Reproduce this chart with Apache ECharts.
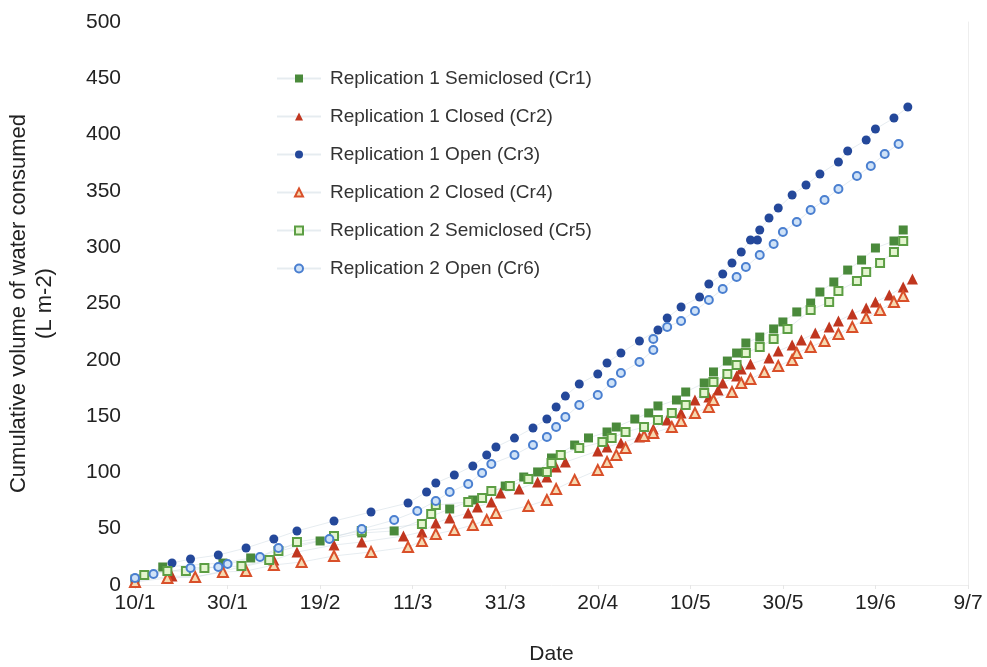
<!DOCTYPE html>
<html>
<head>
<meta charset="utf-8">
<title>Cumulative water consumption</title>
<script src="https://cdn.jsdelivr.net/npm/echarts@6/dist/echarts.min.js"></script>
<style>
html, body { margin: 0; padding: 0; background: #fff; }
#chart { width: 987px; height: 667px; }
</style>
</head>
<body>
<div id="chart"></div>
<script>
// x = days since 10/1, y = cumulative L m-2
const tickLabels = ['10/1', '30/1', '19/2', '11/3', '31/3', '20/4', '10/5', '30/5', '19/6', '9/7'];
const seriesNames = [
    'Replication 1 Semiclosed (Cr1)',
    'Replication 1 Closed (Cr2)',
    'Replication 1 Open (Cr3)',
    'Replication 2 Closed (Cr4)',
    'Replication 2 Semiclosed (Cr5)',
    'Replication 2 Open (Cr6)'
];

const cr1 = [[0, 5.3], [6, 16.0], [19, 19.5], [25, 24.0], [40, 39.1], [49, 46.2], [56, 48.0], [68, 67.5], [73, 75.5],
    [80, 87.9], [84, 95.9], [87, 100.4], [90, 112.8], [95, 124.3], [98, 130.6], [102, 135.9], [104, 140.3], [108, 147.4],
    [111, 152.8], [113, 159.0], [117, 164.3], [119, 171.4], [123, 179.4], [125, 189.2], [128, 198.9], [130, 206.0],
    [132, 214.9], [135, 220.2], [138, 227.4], [140, 233.6], [143, 242.5], [146, 250.4], [148, 260.2], [151, 269.1],
    [154, 279.7], [157, 288.6], [160, 299.3], [164, 305.5], [166, 315.3]];

const cr2 = [[0, 3.6], [8, 8.0], [13, 7.1], [30, 22.2], [35, 29.3], [43, 35.5], [49, 38.2], [58, 43.5], [62, 47.1],
    [65, 55.1], [68, 59.5], [72, 63.9], [74, 69.3], [77, 73.7], [79, 81.7], [83, 85.3], [87, 91.5], [89, 95.9],
    [91, 104.8], [93, 109.2], [100, 119.0], [102, 122.6], [105, 126.1], [109, 131.4], [112, 138.5], [115, 146.5],
    [118, 152.8], [121, 164.3], [124, 167.0], [126, 173.2], [127, 179.4], [130, 185.6], [131, 191.8], [133, 196.3],
    [137, 201.6], [139, 207.8], [142, 213.1], [144, 217.6], [147, 223.8], [150, 229.1], [152, 234.5], [155, 240.7],
    [158, 246.0], [160, 251.3], [163, 257.5], [166, 264.7], [168, 271.8]];

const cr3 = [[0, 4.4], [8, 19.5], [12, 23.1], [18, 26.6], [24, 32.9], [30, 40.9], [35, 48.0], [43, 56.8], [51, 64.8],
    [59, 72.8], [63, 82.6], [65, 90.6], [69, 97.7], [73, 105.7], [76, 115.5], [78, 122.6], [82, 130.5], [86, 139.4],
    [89, 147.4], [91, 158.1], [93, 167.8], [96, 178.5], [100, 187.4], [102, 197.2], [105, 206.0], [109, 216.7],
    [113, 226.5], [115, 237.1], [118, 246.9], [122, 255.8], [124, 267.3], [127, 276.2], [129, 286.0], [131, 295.7],
    [133, 306.4], [134.5, 306.4], [135, 315.3], [137, 325.9], [139, 334.8], [142, 346.4], [145, 355.2], [148, 365.0],
    [152, 375.7], [154, 385.4], [158, 395.2], [160, 405.0], [164, 414.7], [167, 424.5]];

const cr4 = [[0, 2.7], [7, 6.2], [13, 7.1], [19, 11.5], [24, 12.4], [30, 17.8], [36, 20.4], [43, 25.8], [51, 29.3],
    [59, 33.7], [62, 39.1], [65, 45.3], [69, 48.8], [73, 53.3], [76, 57.7], [78, 63.9], [85, 70.2], [89, 75.5],
    [91, 85.3], [95, 93.3], [100, 102.1], [102, 109.2], [104, 115.5], [106, 121.7], [110, 132.3], [112, 135.0],
    [116, 140.3], [118, 145.6], [121, 152.8], [124, 158.1], [125, 164.3], [129, 171.4], [131, 179.4], [133, 182.9],
    [136, 189.2], [139, 194.5], [142, 199.8], [143, 206.0], [146, 211.4], [149, 216.7], [152, 222.9], [155, 229.1],
    [158, 237.1], [161, 244.2], [164, 251.3], [166, 256.7]];

const cr5 = [[2, 8.9], [7, 12.4], [11, 12.4], [15, 15.1], [23, 16.9], [29, 22.2], [31, 30.2], [35, 38.2], [43, 43.5],
    [49, 48.0], [62, 54.2], [64, 63.1], [65, 71.0], [72, 73.7], [75, 77.3], [77, 83.5], [81, 87.9], [85, 94.1],
    [89, 100.4], [90, 108.3], [92, 115.5], [96, 121.7], [101, 127.0], [103, 130.6], [106, 135.9], [110, 140.3],
    [113, 146.5], [116, 152.8], [119, 159.9], [123, 170.5], [125, 180.3], [128, 187.4], [130, 195.4], [132, 206.0],
    [135, 211.4], [138, 218.5], [141, 227.4], [146, 244.2], [150, 251.3], [152, 261.1], [156, 270.0], [158, 278.0],
    [161, 286.0], [164, 295.7], [166, 305.5]];

const cr6 = [[0, 6.2], [4, 9.8], [12, 15.1], [18, 16.0], [20, 18.7], [27, 24.9], [31, 32.9], [42, 40.9], [49, 49.7],
    [56, 57.7], [61, 65.7], [65, 74.6], [68, 82.6], [72, 89.7], [75, 99.5], [77, 107.5], [82, 115.5], [86, 124.3],
    [89, 131.4], [91, 140.3], [93, 149.2], [96, 159.9], [100, 168.7], [103, 179.4], [105, 188.3], [109, 198.0],
    [112, 208.7], [112, 218.5], [115, 229.1], [118, 234.5], [121, 243.3], [124, 253.1], [127, 262.9], [130, 273.5],
    [132, 282.4], [135, 293.1], [138, 302.8], [140, 313.5], [143, 322.4], [146, 333.0], [149, 341.9], [152, 351.7],
    [156, 363.2], [159, 372.1], [162, 382.8], [165, 391.7]];

const font = 'Liberation Sans, Arial, sans-serif';

// faint connecting line, coloured marker
function makeSeries(name, data, symbol, size, fill, border, borderWidth) {
    return {
        name: name,
        type: 'line',
        data: data,
        symbol: symbol,
        symbolSize: size,
        showAllSymbol: true,
        lineStyle: { color: 'rgba(200, 212, 222, 0.45)', width: 1 },
        itemStyle: { color: fill, borderColor: border, borderWidth: borderWidth },
        emphasis: { disabled: true },
        z: 2
    };
}

let chart = echarts.init(document.getElementById('chart'));
let option = {
    backgroundColor: '#fff',
    animation: false,
    textStyle: { fontFamily: font },
    grid: { left: 135, right: 19, top: 22, bottom: 82, containLabel: false, outerBoundsMode: 'none' },
    legend: {
        orient: 'vertical',
        left: 271,
        top: 64,
        itemWidth: 44,
        itemHeight: 10,
        itemGap: 19,
        textStyle: { fontSize: 19, color: '#333', padding: [0, 0, 0, 4] },
        data: seriesNames
    },
    xAxis: {
        type: 'value',
        min: 0,
        max: 180,
        interval: 20,
        name: 'Date',
        nameLocation: 'middle',
        nameGap: 59,
        nameTextStyle: { fontSize: 21, color: '#222' },
        axisLine: { show: true, lineStyle: { color: '#eeeeee' } },
        axisTick: { show: true, length: 4, lineStyle: { color: '#e6e6e6' } },
        splitLine: { show: false },
        axisLabel: {
            fontSize: 21,
            color: '#222',
            margin: 8,
            formatter: function (v) { return tickLabels[Math.round(v / 20)]; }
        }
    },
    yAxis: [
        {
            type: 'value',
            min: 0,
            max: 500,
            interval: 50,
            name: 'Cumulative volume of water consumed\n(L m-2)',
            nameLocation: 'middle',
            nameGap: 77,
            nameTextStyle: { fontSize: 22, color: '#222', lineHeight: 26 },
            axisLine: { show: false },
            axisTick: { show: false },
            splitLine: { show: false },
            axisLabel: { fontSize: 21, color: '#222', margin: 14 }
        },
        {
            type: 'value',
            position: 'right',
            min: 0,
            max: 500,
            axisLine: { show: true, lineStyle: { color: '#eeeeee' } },
            axisTick: { show: false },
            axisLabel: { show: false },
            splitLine: { show: false }
        }
    ],
    series: [
        makeSeries(seriesNames[0], cr1, 'rect', 9, '#4a8a3b', '#4a8a3b', 0),
        makeSeries(seriesNames[1], cr2, 'triangle', 11, '#c0361f', '#c0361f', 0),
        makeSeries(seriesNames[2], cr3, 'circle', 9, '#24489a', '#24489a', 0),
        makeSeries(seriesNames[3], cr4, 'triangle', 10, '#f6d9b0', '#d9502a', 2),
        makeSeries(seriesNames[4], cr5, 'rect', 8, '#e4f5cf', '#5c9e44', 2),
        makeSeries(seriesNames[5], cr6, 'circle', 8, '#cfe2f7', '#4a7fd0', 2)
    ]
};
chart.setOption(option);
window.addEventListener('resize', function () {
    chart.resize();
});
</script>
</body>
</html>
